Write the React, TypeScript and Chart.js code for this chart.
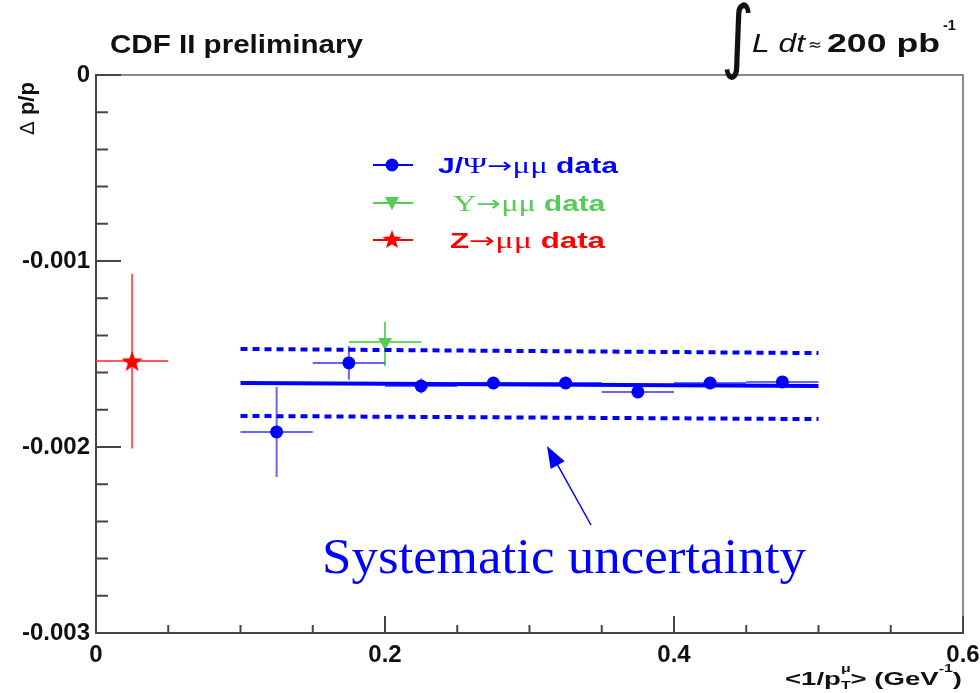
import React, { useEffect, useRef } from "react";
import { Chart, registerables } from "chart.js";
Chart.register(...registerables);

// ---- data ----
const jpsiX = [0.125, 0.175, 0.225, 0.275, 0.325, 0.375, 0.425, 0.475];
const jpsiY = [-0.001919, -0.001548, -0.001672, -0.001656, -0.001656, -0.001704, -0.001656, -0.00165];
const jpsiXErr = [0.025, 0.025, 0.025, 0.025, 0.025, 0.025, 0.025, 0.025];
const jpsiYErr = [0.000242, 0.00009, 0.00004, 0.00002, 0.00002, 0.00003, 0.00002, 0.00003];

const upsX = [0.2];
const upsY = [-0.001435];
const upsXErr = [0.025];
const upsYErrHi = [0.000107];
const upsYErrLo = [0.00013];

const zX = [0.025];
const zY = [-0.001538];
const zXErr = [0.025];
const zYErr = [0.00047];

const fitX = [0.1, 0.5];
const fitY = [-0.001656, -0.001672];
const sysUpY = [-0.001473, -0.001495];
const sysLoY = [-0.001833, -0.00185];

const xTicks = [0, 0.2, 0.4, 0.6];
const xTickLabels = ["0", "0.2", "0.4", "0.6"];
const yTicks = [0, -0.001, -0.002, -0.003];
const yTickLabels = ["0", "-0.001", "-0.002", "-0.003"];
const xMinorStep = 0.05;
const yMinorStep = 0.0002;

const BLUE = "#0000ff";
const GREEN = "#55cc55";
const RED = "#ff0000";
const AXIS = "#444444";
const SANS = '"Liberation Sans", Arial, sans-serif';
const SERIF = '"Liberation Serif", "DejaVu Serif", serif';

function starPath(ctx: CanvasRenderingContext2D, cx: number, cy: number, R: number) {
  const r = R * 0.42;
  ctx.beginPath();
  for (let i = 0; i < 10; i++) {
    const a = -Math.PI / 2 + (i * Math.PI) / 5;
    const rad = i % 2 === 0 ? R : r;
    ctx.lineTo(cx + rad * Math.cos(a), cy + rad * Math.sin(a));
  }
  ctx.closePath();
}

function makeStar(): HTMLCanvasElement {
  const c = document.createElement("canvas");
  c.width = 24;
  c.height = 24;
  const g = c.getContext("2d")!;
  g.fillStyle = RED;
  starPath(g, 12, 13, 11);
  g.fill();
  return c;
}

type Run = { t: string; font: string; color?: string; dy?: number; noAdvance?: boolean };

function drawRuns(ctx: CanvasRenderingContext2D, runs: Run[], x: number, y: number, targetW: number | null, color: string) {
  ctx.save();
  let w = 0;
  for (const r of runs) {
    ctx.font = r.font;
    if (!r.noAdvance) w += ctx.measureText(r.t).width;
  }
  const s = targetW ? targetW / w : 1;
  ctx.translate(x, y);
  ctx.scale(s, 1);
  ctx.textAlign = "left";
  ctx.textBaseline = "alphabetic";
  let cx = 0;
  for (const r of runs) {
    ctx.font = r.font;
    ctx.fillStyle = r.color || color;
    ctx.fillText(r.t, cx, r.dy || 0);
    if (!r.noAdvance) cx += ctx.measureText(r.t).width;
  }
  ctx.restore();
}

const errorBars = {
  id: "errorBars",
  beforeDatasetsDraw(chart: any) {
    const { ctx, scales, chartArea } = chart;
    const xs = scales.x;
    const ys = scales.y;
    const groups = [
      { X: zX, Y: zY, XE: zXErr, LO: zYErr, HI: zYErr, color: "rgba(255,60,60,0.85)" },
      { X: upsX, Y: upsY, XE: upsXErr, LO: upsYErrLo, HI: upsYErrHi, color: "rgba(90,210,90,0.9)" },
      { X: jpsiX, Y: jpsiY, XE: jpsiXErr, LO: jpsiYErr, HI: jpsiYErr, color: "rgba(50,50,255,0.75)" },
    ];
    ctx.save();
    ctx.beginPath();
    ctx.rect(chartArea.left, chartArea.top, chartArea.right - chartArea.left, chartArea.bottom - chartArea.top);
    ctx.clip();
    ctx.lineWidth = 2;
    for (const g of groups) {
      ctx.strokeStyle = g.color;
      for (let i = 0; i < g.X.length; i++) {
        const px = xs.getPixelForValue(g.X[i]);
        const py = ys.getPixelForValue(g.Y[i]);
        ctx.beginPath();
        ctx.moveTo(xs.getPixelForValue(g.X[i] - g.XE[i]), py);
        ctx.lineTo(xs.getPixelForValue(g.X[i] + g.XE[i]), py);
        ctx.moveTo(px, ys.getPixelForValue(g.Y[i] + g.HI[i]));
        ctx.lineTo(px, ys.getPixelForValue(g.Y[i] - g.LO[i]));
        ctx.stroke();
      }
    }
    ctx.restore();
  },
};

const decorations = {
  id: "decorations",
  afterDraw(chart: any) {
    const { ctx, scales, chartArea } = chart;
    const xs = scales.x;
    const ys = scales.y;
    const { left, right, top, bottom } = chartArea;
    ctx.save();
    // frame top and right
    ctx.strokeStyle = "#666";
    ctx.lineWidth = 1.5;
    ctx.beginPath();
    ctx.moveTo(left, top);
    ctx.lineTo(right, top);
    ctx.lineTo(right, bottom);
    ctx.stroke();

    // ticks (inside)
    ctx.strokeStyle = AXIS;
    ctx.lineWidth = 2;
    ctx.beginPath();
    const nx = Math.round((xs.max - xs.min) / xMinorStep);
    for (let i = 0; i <= nx; i++) {
      const v = xs.min + i * xMinorStep;
      const major = xTicks.some((t) => Math.abs(t - v) < 1e-9);
      const px = xs.getPixelForValue(v);
      ctx.moveTo(px, bottom);
      ctx.lineTo(px, bottom - (major ? 17 : 8));
    }
    const ny = Math.round((ys.max - ys.min) / yMinorStep);
    for (let i = 0; i <= ny; i++) {
      const v = ys.min + i * yMinorStep;
      const major = yTicks.some((t) => Math.abs(t - v) < 1e-9);
      const py = ys.getPixelForValue(v);
      ctx.moveTo(left, py);
      ctx.lineTo(left + (major ? 25 : 12), py);
    }
    ctx.stroke();

    // Title
    drawRuns(ctx, [{ t: "CDF II preliminary", font: `bold 25px ${SANS}` }], 110, 53, 253, "#111");

    // Luminosity
    ctx.fillStyle = "#111";
    ctx.font = `80px "DejaVu Sans", sans-serif`;
    ctx.textBaseline = "middle";
    ctx.textAlign = "left";
    ctx.save();
    ctx.translate(721, 42);
    ctx.scale(0.8, 1);
    ctx.fillText("\u222B", 0, 0);
    ctx.restore();
    drawRuns(ctx, [{ t: "L dt", font: `italic 26px ${SANS}` }], 752, 52, 53, "#111");
    drawRuns(ctx, [{ t: "\u2248", font: `16px "DejaVu Sans", sans-serif` }], 808, 50, 14, "#111");
    drawRuns(ctx, [{ t: "200 pb", font: `bold 26px ${SANS}` }], 827, 52, 113, "#111");
    drawRuns(ctx, [{ t: "-1", font: `bold 15px ${SANS}` }], 943, 30, 13, "#111");

    // Legend
    const lx0 = 373, lx1 = 413, mx = 392;
    const rows = [
      { y: 165, color: BLUE },
      { y: 203, color: GREEN },
      { y: 240, color: RED },
    ];
    ctx.lineWidth = 2;
    for (const r of rows) {
      ctx.strokeStyle = r.color;
      ctx.beginPath();
      ctx.moveTo(lx0, r.y);
      ctx.lineTo(lx1, r.y);
      ctx.stroke();
    }
    ctx.fillStyle = BLUE;
    ctx.beginPath();
    ctx.arc(mx, rows[0].y, 6.5, 0, Math.PI * 2);
    ctx.fill();
    ctx.fillStyle = GREEN;
    ctx.beginPath();
    ctx.moveTo(mx - 7, rows[1].y - 6);
    ctx.lineTo(mx + 7, rows[1].y - 6);
    ctx.lineTo(mx, rows[1].y + 7);
    ctx.closePath();
    ctx.fill();
    ctx.fillStyle = RED;
    starPath(ctx, mx, rows[2].y, 10);
    ctx.fill();

    const bold = `bold 22px ${SANS}`;
    const sym = `24px ${SERIF}`;
    const arr = `22px "DejaVu Sans", sans-serif`;
    drawRuns(ctx, [{ t: "J/", font: bold }, { t: "\u03A8", font: sym }, { t: "\u2192", font: arr }, { t: "\u03BC\u03BC", font: sym }, { t: " data", font: bold }], 438, rows[0].y + 8, 180, BLUE);
    drawRuns(ctx, [{ t: "\u03A5", font: sym }, { t: "\u2192", font: arr }, { t: "\u03BC\u03BC", font: sym }, { t: " data", font: bold }], 453, rows[1].y + 8, 152, GREEN);
    drawRuns(ctx, [{ t: "Z", font: bold }, { t: "\u2192", font: arr }, { t: "\u03BC\u03BC", font: sym }, { t: " data", font: bold }], 450, rows[2].y + 8, 155, RED);

    // Axis titles
    ctx.save();
    ctx.translate(34, 135);
    ctx.rotate(-Math.PI / 2);
    drawRuns(ctx, [{ t: "\u0394", font: `20px "DejaVu Sans", sans-serif` }, { t: " p/p", font: `bold 22px ${SANS}` }], 0, 0, 53, "#111");
    ctx.restore();

    const xf = `bold 19px ${SANS}`;
    const sf = `bold 11px ${SANS}`;
    drawRuns(
      ctx,
      [
        { t: "<1/p", font: xf },
        { t: "\u03BC", font: sf, dy: -13, noAdvance: true },
        { t: "T", font: sf, dy: 4 },
        { t: "> (GeV", font: xf },
        { t: "-1", font: sf, dy: -13 },
        { t: ")", font: xf },
      ],
      785,
      685,
      177,
      "#111"
    );

    // Annotation
    drawRuns(ctx, [{ t: "Systematic uncertainty", font: `50px ${SERIF}` }], 322, 573, 484, BLUE);
    // arrow
    const ax0 = 591, ay0 = 525, ax1 = 547, ay1 = 446;
    const ang = Math.atan2(ay1 - ay0, ax1 - ax0);
    ctx.strokeStyle = BLUE;
    ctx.fillStyle = BLUE;
    ctx.lineWidth = 1.5;
    ctx.beginPath();
    ctx.moveTo(ax0, ay0);
    ctx.lineTo(ax1 - 12 * Math.cos(ang), ay1 - 12 * Math.sin(ang));
    ctx.stroke();
    const hl = 22, hw = 8;
    ctx.beginPath();
    ctx.moveTo(ax1, ay1);
    ctx.lineTo(ax1 - hl * Math.cos(ang) + hw * Math.sin(ang), ay1 - hl * Math.sin(ang) - hw * Math.cos(ang));
    ctx.lineTo(ax1 - hl * Math.cos(ang) - hw * Math.sin(ang), ay1 - hl * Math.sin(ang) + hw * Math.cos(ang));
    ctx.closePath();
    ctx.fill();

    ctx.restore();
  },
};

function labelFor(ticks: number[], labels: string[], v: number): string {
  const i = ticks.findIndex((t) => Math.abs(t - v) < 1e-12);
  return i >= 0 ? labels[i] : "";
}

export default function App() {
  const ref = useRef<HTMLCanvasElement | null>(null);
  useEffect(() => {
    document.body.style.margin = "0";
    const canvas = ref.current!;
    const star = makeStar();
    const tickFont = { family: SANS, size: 24, weight: "bold" as const };
    const chart = new Chart(canvas, {
      type: "scatter",
      data: {
        datasets: [
          {
            label: "sys up",
            data: fitX.map((x, i) => ({ x, y: sysUpY[i] })),
            showLine: true,
            borderColor: BLUE,
            borderWidth: 4,
            borderDash: [7, 5],
            pointRadius: 0,
            fill: false,
          },
          {
            label: "sys low",
            data: fitX.map((x, i) => ({ x, y: sysLoY[i] })),
            showLine: true,
            borderColor: BLUE,
            borderWidth: 4,
            borderDash: [7, 5],
            pointRadius: 0,
            fill: false,
          },
          {
            label: "fit",
            data: fitX.map((x, i) => ({ x, y: fitY[i] })),
            showLine: true,
            borderColor: BLUE,
            borderWidth: 4,
            pointRadius: 0,
            fill: false,
          },
          {
            label: "J/Psi",
            data: jpsiX.map((x, i) => ({ x, y: jpsiY[i] })),
            pointStyle: "circle",
            pointRadius: 6.5,
            backgroundColor: BLUE,
            borderColor: BLUE,
            borderWidth: 0,
          },
          {
            label: "Upsilon",
            data: upsX.map((x, i) => ({ x, y: upsY[i] })),
            pointStyle: "triangle",
            rotation: 180,
            pointRadius: 8,
            backgroundColor: GREEN,
            borderColor: GREEN,
            borderWidth: 0,
          },
          {
            label: "Z",
            data: zX.map((x, i) => ({ x, y: zY[i] })),
            pointStyle: star,
            pointRadius: 11,
          },
        ],
      },
      options: {
        animation: false,
        responsive: false,
        devicePixelRatio: 1,
        layout: { padding: { top: 75, right: 17, left: 0, bottom: 0 } },
        plugins: { legend: { display: false }, tooltip: { enabled: false }, title: { display: false } },
        scales: {
          x: {
            type: "linear",
            min: 0,
            max: 0.6,
            afterBuildTicks: (s: any) => {
              s.ticks = xTicks.map((v) => ({ value: v }));
            },
            ticks: {
              callback: (v: any) => labelFor(xTicks, xTickLabels, Number(v)),
              font: tickFont,
              color: "#111",
              padding: 8,
              maxRotation: 0,
              autoSkip: false,
            },
            grid: { display: false, drawTicks: false },
            border: { display: true, color: AXIS, width: 2 },
            afterFit: (s: any) => {
              s.height = 60;
              s.paddingLeft = 0;
              s.paddingRight = 0;
            },
          },
          y: {
            type: "linear",
            min: -0.003,
            max: 0,
            afterBuildTicks: (s: any) => {
              s.ticks = yTicks.map((v) => ({ value: v }));
            },
            ticks: {
              callback: (v: any) => labelFor(yTicks, yTickLabels, Number(v)),
              font: tickFont,
              color: "#111",
              padding: 6,
              autoSkip: false,
            },
            grid: { display: false, drawTicks: false },
            border: { display: true, color: AXIS, width: 2 },
            afterFit: (s: any) => {
              s.width = 96;
              s.paddingTop = 0;
              s.paddingBottom = 0;
            },
          },
        },
      },
      plugins: [errorBars, decorations],
    });
    return () => chart.destroy();
  }, []);
  return (
    <div style={{ width: 980, height: 693, background: "#fff" }}>
      <canvas ref={ref} width={980} height={693} style={{ display: "block", width: 980, height: 693 }} />
    </div>
  );
}
